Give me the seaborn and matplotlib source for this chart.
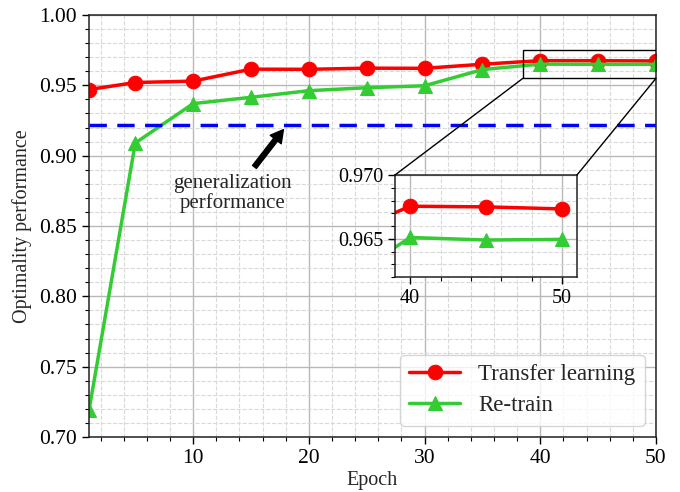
import numpy as np
import pandas as pd
import matplotlib
matplotlib.use("Agg")
import matplotlib.pyplot as plt
import seaborn as sns
from matplotlib.ticker import MultipleLocator
from matplotlib.patches import Rectangle, ConnectionPatch

# ============================================================================
# DATA
# ============================================================================

epochs = [1, 5, 10, 15, 20, 25, 30, 35, 40, 45, 50]
transfer = [0.947, 0.952, 0.953, 0.9615, 0.9614, 0.9622, 0.9621, 0.965, 0.96755, 0.9675, 0.96734]
retrain = [0.719, 0.909, 0.937, 0.9415, 0.9462, 0.9483, 0.9497, 0.9612, 0.9651, 0.9649, 0.96495]
generalization = 0.922

series_names = ["Transfer learning", "Re-train"]

df = pd.DataFrame({
    "Epoch": epochs * 2,
    "value": transfer + retrain,
    "model": [series_names[0]] * len(epochs) + [series_names[1]] * len(epochs),
})

# ============================================================================
# STYLE
# ============================================================================

sns.set_style("ticks")
plt.rcParams["font.family"] = ["Liberation Serif", "DejaVu Serif"]

colors = {"Transfer learning": "#ff0000", "Re-train": "#33cc33"}
markers = {"Transfer learning": "o", "Re-train": "^"}


def draw_series(ax, legend=True):
    for name in series_names:
        sub = df[df["model"] == name]
        sns.lineplot(
            data=sub,
            x="Epoch",
            y="value",
            ax=ax,
            color=colors[name],
            marker=markers[name],
            markersize=10.5,
            markeredgecolor=colors[name],
            linewidth=2.5,
            label=name if legend else None,
            legend=False,
        )


def style_grid(ax):
    ax.grid(which="major", color="#b8b8b8", linestyle="-", linewidth=1.0)
    ax.grid(which="minor", color="#d9d9d9", linestyle="--", linewidth=0.8)
    ax.tick_params(which="major", direction="out", length=5, width=1, colors="black")
    ax.tick_params(which="minor", direction="out", length=3, width=0.8, colors="black")
    for s in ax.spines.values():
        s.set_color("#222222")
        s.set_linewidth(1.1)
        s.set_visible(True)


# ============================================================================
# MAIN PLOT
# ============================================================================

fig = plt.figure(figsize=(6.8, 4.92), dpi=100)
ax = fig.add_axes([89 / 680, 1 - 437 / 492, 567 / 680, 422 / 492])

draw_series(ax)
ax.axhline(generalization, color="#0000ff", linestyle="--", linewidth=2.5, dashes=(5, 3))

ax.set_xlim(1, 50)
ax.set_ylim(0.70, 1.00)
ax.xaxis.set_major_locator(MultipleLocator(10))
ax.xaxis.set_minor_locator(MultipleLocator(2))
ax.yaxis.set_major_locator(MultipleLocator(0.05))
ax.yaxis.set_minor_locator(MultipleLocator(0.01))
ax.yaxis.set_major_formatter(plt.FormatStrFormatter("%.2f"))
ax.set_axisbelow(True)
style_grid(ax)
ax.tick_params(labelsize=15.5)

ax.set_xlabel("Epoch", fontsize=14.5, labelpad=2)
ax.set_ylabel("Optimality performance", fontsize=14.5, labelpad=5)

# generalization arrow + text
ax.text(13.4, 0.873, "generalization\nperformance", ha="center", va="center",
        fontsize=15, linespacing=1.0)
ax.annotate(
    "",
    xy=(17.8, 0.9185),
    xytext=(15.3, 0.892),
    arrowprops=dict(facecolor="black", edgecolor="black", shrink=0.0,
                    width=3.5, headwidth=10, headlength=9),
)

leg = ax.legend(loc="lower right", fontsize=16.5, framealpha=0.8,
                handlelength=2.2, borderpad=0.4, labelspacing=0.45,
                handletextpad=0.8)
leg.get_frame().set_edgecolor("#cccccc")

# zoom box on main axes
rect = Rectangle((38.5, 0.955), 12.5, 0.020, fill=False, edgecolor="black",
                 linewidth=1.0, zorder=5, clip_on=True)
ax.add_patch(rect)

# ============================================================================
# INSET
# ============================================================================

axins = fig.add_axes([395 / 680, 1 - 277 / 492, 182 / 680, 102 / 492])
draw_series(axins, legend=False)
axins.set_xlim(39, 51)
axins.set_ylim(0.962, 0.970)
axins.set_xticks([40, 50])
axins.xaxis.set_minor_locator(MultipleLocator(2))
axins.yaxis.set_major_locator(MultipleLocator(0.005))
axins.yaxis.set_minor_locator(MultipleLocator(0.001))
axins.yaxis.set_major_formatter(plt.FormatStrFormatter("%.3f"))
axins.set_axisbelow(True)
style_grid(axins)
axins.tick_params(labelsize=14.5)
axins.set_xlabel("")
axins.set_ylabel("")

for xyA, xyB in [((38.5, 0.955), (0, 1)), ((50, 0.955), (1, 1))]:
    con = ConnectionPatch(xyA=xyA, coordsA=ax.transData,
                          xyB=xyB, coordsB=axins.transAxes,
                          color="black", linewidth=1.0, zorder=6)
    fig.add_artist(con)

fig.savefig("out.png", dpi=100)
